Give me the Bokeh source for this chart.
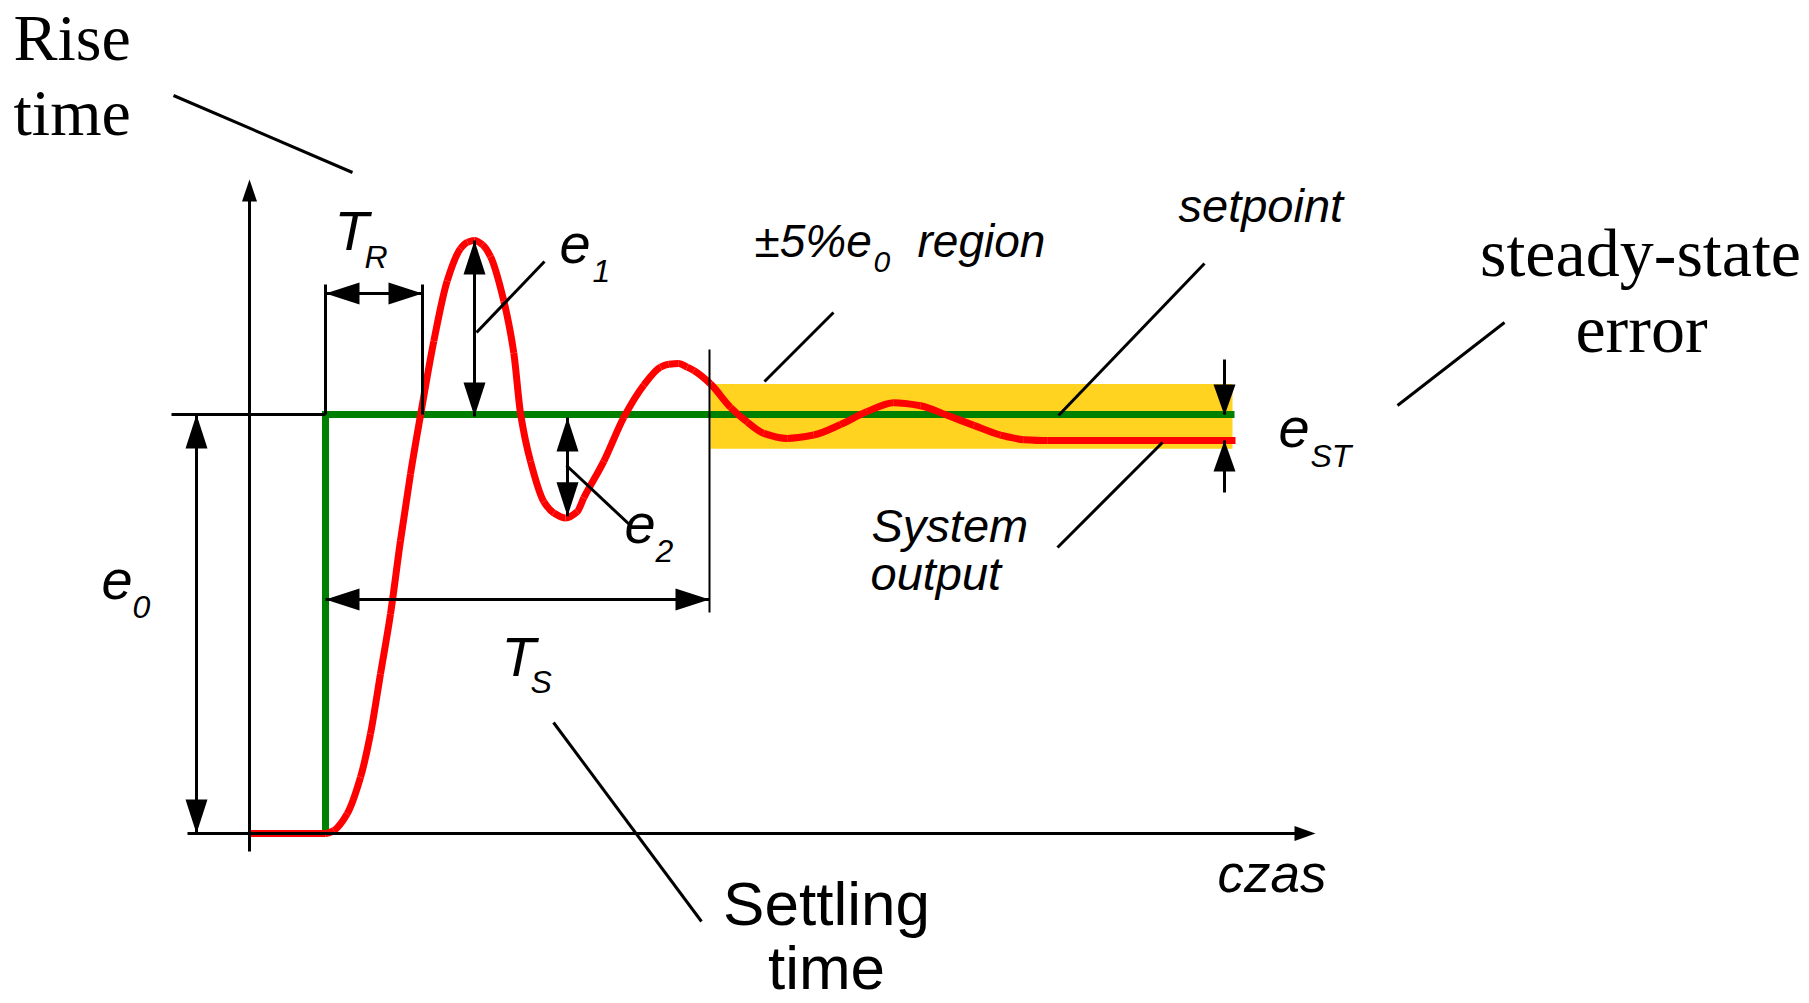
from bokeh.plotting import figure
from bokeh.models import Range1d, Label
from bokeh.embed import file_html
from bokeh.resources import INLINE

# ---------------- data ----------------
# time: arbitrary units, 0 = instant of the step; value: relative to e0 (setpoint = 1)
out_time = [-0.76, 0.0, 0.083, 0.217, 0.35, 0.45, 0.55, 0.65, 0.75, 0.85, 0.95,
            1.083, 1.217, 1.35, 1.42, 1.49, 1.57, 1.65, 1.783, 1.883, 1.95, 2.05, 2.183,
            2.283, 2.40, 2.517, 2.583, 2.783, 2.983, 3.183, 3.35, 3.433, 3.533, 3.617, 3.683,
            3.85, 4.05, 4.217, 4.383, 4.617, 4.883, 5.15, 5.417, 5.683, 5.95, 6.217, 6.483,
            6.75, 6.983, 7.217, 9.10]
out_value = [0.0, 0.0, 0.007, 0.047, 0.134, 0.238, 0.381, 0.524, 0.699, 0.858, 0.998,
             1.175, 1.319, 1.396, 1.411, 1.415, 1.405, 1.377, 1.271, 1.147, 1.003, 0.888, 0.792,
             0.765, 0.753, 0.768, 0.801, 0.888, 0.993, 1.070, 1.113, 1.120, 1.122, 1.113, 1.105,
             1.073, 1.017, 0.982, 0.955, 0.943, 0.951, 0.976, 1.007, 1.028, 1.021, 0.998, 0.974,
             0.951, 0.940, 0.938, 0.938]
setpoint_time = [0.0, 0.0, 9.09]
setpoint_value = [0.0, 1.0, 1.0]
setpoint = 1.0
steady_value = 0.938
rise_time = 0.97
settling_time = 3.84
peak1_time, peak1_value = 1.49, 1.415
trough1_time, trough1_value = 2.42, 0.757
band_time = [3.85, 9.07]
band_value = [0.918, 1.073]
est_time = 8.99
start_time = -0.76

# ---------------- geometry helpers (layout) ----------------
X0, XS, Y0, YS = 325.0, 100.0, 833.0, 419.0   # px of t=0, px per unit, px of v=0, px per unit


def tx(px):
    return (px - X0) / XS


def ty(py):
    return (Y0 - py) / YS


def pxt(t):
    return X0 + t * XS


def pyv(v):
    return Y0 - v * YS


W, H = 1809, 1003
p = figure(width=W, height=H, x_range=Range1d(tx(0), tx(W)),
           y_range=Range1d(ty(H), ty(0)), output_backend="svg",
           toolbar_location=None, min_border=0, x_axis_type=None, y_axis_type=None,
           background_fill_color="white", border_fill_color="white")
p.grid.visible = False
p.outline_line_color = None

RED = "#ff0000"
GREEN = "#008000"
YELLOW = "#ffd320"

# band
p.quad(left=[band_time[0]], right=[band_time[1]], bottom=[band_value[0]], top=[band_value[1]],
       fill_color=YELLOW, line_color=None)

# setpoint step
p.line(setpoint_time, setpoint_value, line_color=GREEN, line_width=7, line_join="miter")

# system output: smooth (shape-preserving cubic) rendering through the read points
n = len(out_time)
h = [out_time[i + 1] - out_time[i] for i in range(n - 1)]
d = [(out_value[i + 1] - out_value[i]) / h[i] for i in range(n - 1)]
m = [0.0] * n
for k in range(1, n - 1):
    if d[k - 1] * d[k] <= 0:
        m[k] = 0.0
    else:
        w1 = 2 * h[k] + h[k - 1]
        w2 = h[k] + 2 * h[k - 1]
        m[k] = (w1 + w2) / (w1 / d[k - 1] + w2 / d[k])
bx0, by0, bx1, by1, cx0, cy0, cx1, cy1 = [], [], [], [], [], [], [], []
for i in range(n - 1):
    bx0.append(out_time[i]); by0.append(out_value[i])
    bx1.append(out_time[i + 1]); by1.append(out_value[i + 1])
    cx0.append(out_time[i] + h[i] / 3); cy0.append(out_value[i] + m[i] * h[i] / 3)
    cx1.append(out_time[i + 1] - h[i] / 3); cy1.append(out_value[i + 1] - m[i + 1] * h[i] / 3)
p.bezier(x0=bx0, y0=by0, x1=bx1, y1=by1, cx0=cx0, cy0=cy0, cx1=cx1, cy1=cy1,
         line_color=RED, line_width=7)

# ---------------- black drawing (in pixel layout) ----------------
segs = {"x0": [], "y0": [], "x1": [], "y1": [], "w": []}
heads_x, heads_y = [], []


def seg(xa, ya, xb, yb, w=3):
    segs["x0"].append(tx(xa)); segs["y0"].append(ty(ya))
    segs["x1"].append(tx(xb)); segs["y1"].append(ty(yb))
    segs["w"].append(w)


def head(tipx, tipy, fromx, fromy, length=34, width=22):
    dx, dy = tipx - fromx, tipy - fromy
    L = (dx * dx + dy * dy) ** 0.5
    ux, uy = dx / L, dy / L
    bx, by = tipx - ux * length, tipy - uy * length
    px_, py_ = -uy * width / 2, ux * width / 2
    heads_x.append([tx(tipx), tx(bx + px_), tx(bx - px_)])
    heads_y.append([ty(tipy), ty(by + py_), ty(by - py_)])


def dim(xa, ya, xb, yb, length=34, width=22):
    seg(xa, ya, xb, yb)
    head(xa, ya, xb, yb, length, width)
    head(xb, yb, xa, ya, length, width)


# axes
seg(pxt(start_time), 851, pxt(start_time), 195)
head(pxt(start_time), 179, pxt(start_time), 851, 22, 15)
seg(187, pyv(0), 1300, pyv(0))
head(1315, pyv(0), 187, pyv(0), 21, 15)
# setpoint extension to the left
seg(171, pyv(setpoint), pxt(0), pyv(setpoint))

# e0
dim(196, pyv(setpoint), 196, pyv(0))
# T_R
seg(pxt(0), 284, pxt(0), pyv(setpoint))
seg(pxt(rise_time), 284, pxt(rise_time), pyv(setpoint))
dim(pxt(0), 293, pxt(rise_time), 293)
# e1
dim(pxt(peak1_time), pyv(peak1_value), pxt(peak1_time), pyv(setpoint) + 2)
# e2
dim(pxt(trough1_time), pyv(setpoint) + 3, pxt(trough1_time), pyv(trough1_value))
# T_S
seg(pxt(settling_time), 349, pxt(settling_time), 612, 2)
dim(pxt(0), 599, pxt(settling_time), 599)
# e_ST
seg(pxt(est_time), 359, pxt(est_time), pyv(setpoint))
head(pxt(est_time), pyv(setpoint) + 1, pxt(est_time), 359, 31, 22)
seg(pxt(est_time), 492, pxt(est_time), pyv(steady_value))
head(pxt(est_time), pyv(steady_value), pxt(est_time), 492, 31, 22)

# leader lines
seg(173, 95, 352, 172)      # Rise time
seg(476, 332, 544, 261)     # e1
seg(566, 465, 630, 525)     # e2
seg(764, 381, 833, 312)     # +-5% region
seg(1058, 415, 1204, 263)   # setpoint
seg(1057, 547, 1162, 442)   # System output
seg(1397, 405, 1504, 322)   # steady-state error
seg(553, 722, 701, 921)     # Settling time

p.segment(x0="x0", y0="y0", x1="x1", y1="y1", line_width="w", line_color="black",
          source=dict(x0=segs["x0"], y0=segs["y0"], x1=segs["x1"], y1=segs["y1"], w=segs["w"]))
p.patches(heads_x, heads_y, fill_color="black", line_color=None)


# ---------------- texts ----------------
def lab(text, x, y, size, font="Liberation Sans", style="italic", align="left"):
    yy = y - 0.36 * size   # compensate the renderer's baseline placement
    p.add_layout(Label(x=tx(x), y=ty(yy), text=text, text_font=font,
                       text_font_size=f"{size}px", text_font_style=style,
                       text_align=align, text_baseline="alphabetic", text_color="black"))


SERIF = "Liberation Serif"
lab("Rise", 13, 61, 66, SERIF, "normal")
lab("time", 13, 136, 66, SERIF, "normal")
lab("steady-state", 1640, 277, 68, SERIF, "normal", "center")
lab("error", 1641, 353, 68, SERIF, "normal", "center")
lab("Settling", 826, 925, 62, style="normal", align="center")
lab("time", 826, 989, 62, style="normal", align="center")

lab("T", 334, 250, 56); lab("R", 364, 268, 32)
lab("e", 559, 264, 56); lab("1", 592, 282, 32)
lab("e", 624, 544, 56); lab("2", 655, 562, 32)
lab("T", 501, 676, 56); lab("S", 530, 693, 32)
lab("e", 101, 600, 56); lab("0", 132, 618, 32)
lab("e", 1278, 448, 56); lab("ST", 1310, 467, 32)

lab("\u00b15%e", 754, 257, 46); lab("0", 873, 272, 30); lab("region", 917, 257, 46)
lab("setpoint", 1178, 222, 47)
lab("System", 871, 542, 47)
lab("output", 870, 590, 47)
lab("czas", 1217, 892, 53)

open("out.html", "w").write(file_html(p, INLINE, title="Step response"))
